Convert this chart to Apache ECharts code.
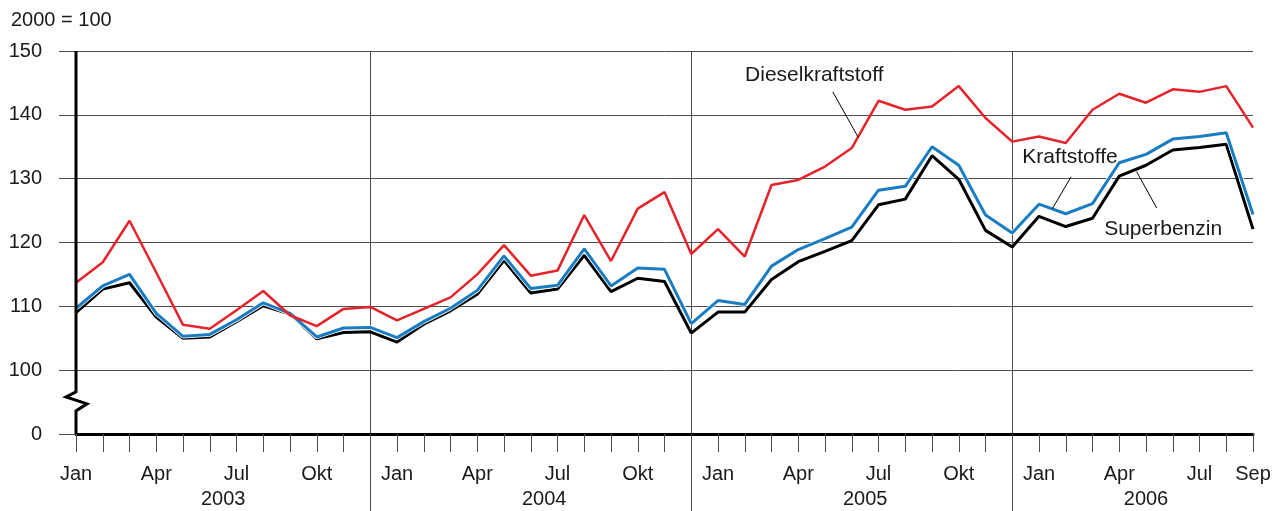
<!DOCTYPE html>
<html>
<head>
<meta charset="utf-8">
<script src="https://cdn.jsdelivr.net/npm/echarts@6/dist/echarts.min.js"></script>
<style>
  html, body { margin: 0; padding: 0; background: #fff; }
  #chart { width: 1285px; height: 511px; }
</style>
</head>
<body>
<div id="chart"></div>
<script>
var years = ['2003', '2004', '2005', '2006'];
var monthNames = ['Jan', 'Feb', 'Mrz', 'Apr', 'Mai', 'Jun', 'Jul', 'Aug', 'Sep', 'Okt', 'Nov', 'Dez'];
var tickMonths = ['Jan', 'Apr', 'Jul', 'Okt'];
var yTicks = [90, 100, 110, 120, 130, 140, 150];   // 90 is shown as "0" (axis break)

// monthly index values, Jan 2003 .. Sep 2006
var diesel = [113.7, 116.9, 123.4, 115.3, 107.1, 106.5, 109.4, 112.4, 108.6, 106.9, 109.6, 109.9,
              107.8, 109.6, 111.4, 115.0, 119.6, 114.8, 115.6, 124.3, 117.1, 125.3, 127.9, 118.2,
              122.1, 117.8, 129.0, 129.8, 131.9, 134.8, 142.2, 140.8, 141.3, 144.5, 139.5, 135.8,
              136.6, 135.6, 140.8, 143.3, 141.9, 144.0, 143.6, 144.5, 138.0];
var kraftstoffe = [109.7, 113.2, 115.0, 108.9, 105.3, 105.6, 107.9, 110.55, 108.9, 105.2, 106.6, 106.7,
                   105.1, 107.6, 109.7, 112.5, 117.9, 112.8, 113.3, 119.0, 113.2, 116.0, 115.8, 107.3,
                   110.9, 110.3, 116.3, 118.9, 120.6, 122.4, 128.2, 128.8, 135.0, 132.1, 124.3, 121.5,
                   126.0, 124.5, 126.1, 132.5, 133.8, 136.2, 136.6, 137.2, 124.4];
var superbenzin = [109.0, 112.7, 113.7, 108.3, 105.0, 105.2, 107.6, 110.1, 108.8, 104.9, 105.9, 106.0,
                   104.4, 107.2, 109.3, 111.9, 117.2, 112.1, 112.7, 118.0, 112.3, 114.4, 113.9, 105.8,
                   109.1, 109.1, 114.2, 117.0, 118.6, 120.3, 125.9, 126.8, 133.6, 129.9, 121.9, 119.3,
                   124.1, 122.5, 123.8, 130.4, 132.1, 134.5, 134.9, 135.4, 122.1];

var categories = [];
years.forEach(function (y) {
    monthNames.forEach(function (m) {
        if (categories.length < diesel.length) categories.push(y + ' ' + m);
    });
});
var lastIdx = categories.length - 1;
var yearSeps = [11, 23, 35];
var yearCenters = [5.5, 17.5, 29.5, 40];

var font = '"Liberation Sans", Arial, sans-serif';
var fontSize = 20;
var textColor = '#1a1a1a';
var gridColor = '#4d4d4d';

(function () {
    var myChart = echarts.init(document.getElementById('chart'));

    var option = {
        animation: false,
        backgroundColor: '#fff',
        title: {
            text: '2000 = 100',
            left: 6,
            top: 5,
            textStyle: { fontFamily: font, fontSize: fontSize, fontWeight: 'normal', color: textColor }
        },
        grid: { left: 76, right: 32, top: 51, bottom: 77, containLabel: false },
        xAxis: [
            {
                type: 'category',
                data: categories,
                boundaryGap: false,
                axisLine: { lineStyle: { color: '#000', width: 3 } },
                axisTick: { show: true, interval: 0, length: 18, lineStyle: { color: gridColor, width: 1 } },
                axisLabel: {
                    interval: 0,
                    margin: 30,
                    fontFamily: font,
                    fontSize: fontSize,
                    color: textColor,
                    formatter: function (val, idx) {
                        var m = val.split(' ')[1];
                        if (idx === lastIdx) return m;
                        return tickMonths.indexOf(m) >= 0 ? m : '';
                    }
                },
                splitLine: {
                    show: true,
                    interval: function (idx) { return yearSeps.indexOf(idx) >= 0; },
                    lineStyle: { color: gridColor, width: 1 }
                }
            },
            {
                type: 'value',
                min: 0,
                max: lastIdx,
                position: 'bottom',
                axisLine: { show: false },
                axisTick: { show: true, customValues: yearSeps, length: 77, lineStyle: { color: gridColor, width: 1 } },
                axisLabel: {
                    customValues: yearCenters,
                    margin: 55,
                    fontFamily: font,
                    fontSize: fontSize,
                    color: textColor,
                    formatter: function (v) { return years[yearCenters.indexOf(v)]; }
                },
                splitLine: { show: false }
            }
        ],
        yAxis: {
            type: 'value',
            min: 90,
            max: 150,
            interval: 10,
            axisLine: { show: false },
            axisTick: { show: true, length: 17, lineStyle: { color: gridColor, width: 1 } },
            axisLabel: {
                margin: 34,
                fontFamily: font,
                fontSize: fontSize,
                color: textColor,
                formatter: function (v) { return v === yTicks[0] ? '0' : String(v); }
            },
            splitLine: {
                lineStyle: { color: gridColor, width: 1 }
            }
        },
        series: [
            {
                name: 'Superbenzin',
                type: 'line',
                data: superbenzin,
                symbol: 'none',
                z: 3,
                lineStyle: { color: '#000', width: 3 }
            },
            {
                name: 'Kraftstoffe halo',
                type: 'line',
                data: kraftstoffe,
                symbol: 'none',
                silent: true,
                z: 4,
                lineStyle: { color: '#fff', width: 4.5 }
            },
            {
                name: 'Kraftstoffe',
                type: 'line',
                data: kraftstoffe,
                symbol: 'none',
                z: 5,
                lineStyle: { color: '#1b7dc1', width: 3 }
            },
            {
                name: 'Dieselkraftstoff',
                type: 'line',
                data: diesel,
                symbol: 'none',
                z: 6,
                lineStyle: { color: '#e5232b', width: 2.5 }
            }
        ]
    };

    myChart.setOption(option);

    // pixel helpers (value x axis shares the category scale 0..lastIdx)
    function px(x) { return myChart.convertToPixel({ xAxisIndex: 1 }, x); }
    function py(y) { return myChart.convertToPixel({ yAxisIndex: 0 }, y); }

    // y axis line with break zigzag
    var x0 = px(0);
    var yb = py(96.6);
    var axisPts = [[x0, py(150)], [x0, yb], [x0 - 10, yb + 5], [x0 + 11, yb + 12], [x0, yb + 19], [x0, py(90)]];

    // annotation labels with leader lines (in data coordinates)
    var notes = [
        { text: 'Dieselkraftstoff', at: [27.6, 146.2], from: [28.29, 143.6], to: [29.24, 136.5] },
        { text: 'Kraftstoffe', at: [37.16, 133.4], from: [37.2, 130.3], to: [36.5, 125.3] },
        { text: 'Superbenzin', at: [40.64, 122.1], from: [39.65, 131.1], to: [40.4, 125.4] }
    ];

    var graphics = [{
        type: 'polyline',
        z: 10,
        shape: { points: axisPts },
        style: { stroke: '#000', lineWidth: 3, fill: null, lineJoin: 'miter' }
    }];
    notes.forEach(function (n) {
        graphics.push({
            type: 'line',
            z: 10,
            shape: { x1: px(n.from[0]), y1: py(n.from[1]), x2: px(n.to[0]), y2: py(n.to[1]) },
            style: { stroke: '#000', lineWidth: 1 }
        });
        graphics.push({
            type: 'text',
            z: 10,
            x: px(n.at[0]),
            y: py(n.at[1]),
            style: {
                text: n.text,
                font: '21px ' + font,
                fill: textColor,
                align: 'center',
                verticalAlign: 'middle'
            }
        });
    });

    myChart.setOption({ graphic: graphics });
})();
</script>
</body>
</html>
